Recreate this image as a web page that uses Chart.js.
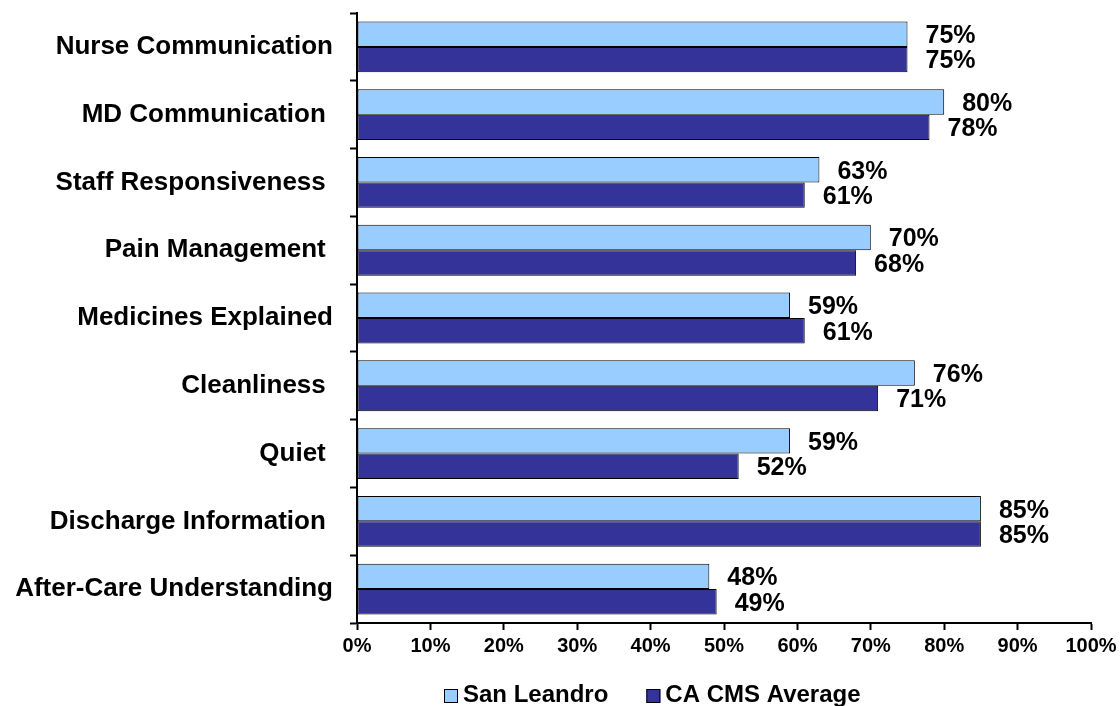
<!DOCTYPE html>
<html>
<head>
<meta charset="utf-8">
<script src="https://cdn.jsdelivr.net/npm/chart.js@4"></script>
<style>
  body { margin: 0; background: #fff; }
  #wrap { width: 1120px; height: 706px; }
</style>
</head>
<body>
<div id="wrap"><canvas id="grafico"></canvas></div>
<script>
// Datos
const categorias = [
  "Nurse Communication",
  "MD Communication ",
  "Staff Responsiveness ",
  "Pain Management ",
  "Medicines Explained",
  "Cleanliness ",
  "Quiet ",
  "Discharge Information ",
  "After-Care Understanding"
];
const sanLeandro = [75, 80, 63, 70, 59, 76, 59, 85, 48];
const caCmsAverage = [75, 78, 61, 68, 61, 71, 52, 85, 49];
const nombresSeries = ["San Leandro", "CA CMS Average"];

Chart.defaults.font.family = '"Liberation Sans", Arial, sans-serif';
Chart.defaults.color = "#000";

// Etiquetas de valor al final de cada barra
const etiquetasValor = {
  id: "etiquetasValor",
  afterDatasetsDraw(chart) {
    const ctx = chart.ctx;
    ctx.save();
    ctx.font = "bold 25px 'Liberation Sans', Arial, sans-serif";
    ctx.fillStyle = "#000";
    ctx.textAlign = "left";
    ctx.textBaseline = "middle";
    chart.data.datasets.forEach((ds, i) => {
      chart.getDatasetMeta(i).data.forEach((bar, j) => {
        ctx.fillText(ds.data[j] + "%", bar.x + 18, bar.y + 2);
      });
    });
    ctx.restore();
  }
};

// Leyenda dibujada a mano para colocarla como en el original
const leyenda = {
  id: "leyenda",
  afterDraw(chart) {
    const ctx = chart.ctx;
    ctx.save();
    ctx.font = "bold 24px 'Liberation Sans', Arial, sans-serif";
    ctx.textBaseline = "alphabetic";
    let x = 444;
    chart.data.datasets.forEach(ds => {
      ctx.fillStyle = ds.backgroundColor;
      ctx.fillRect(x, 689, 14, 14);
      ctx.strokeStyle = "#000";
      ctx.lineWidth = 1;
      ctx.strokeRect(x + 0.5, 689.5, 13, 13);
      ctx.fillStyle = "#000";
      ctx.fillText(ds.label, x + 19, 702);
      x += 19 + ctx.measureText(ds.label).width + 38;
    });
    ctx.restore();
  }
};

new Chart(document.getElementById("grafico"), {
  type: "bar",
  data: {
    labels: categorias,
    datasets: [
      {
        label: nombresSeries[0],
        data: sanLeandro,
        backgroundColor: "#99CCFF",
        borderColor: "#000",
        borderWidth: 1,
        borderSkipped: false
      },
      {
        label: nombresSeries[1],
        data: caCmsAverage,
        backgroundColor: "#333399",
        borderColor: "#000",
        borderWidth: 1,
        borderSkipped: false
      }
    ]
  },
  options: {
    indexAxis: "y",
    responsive: true,
    maintainAspectRatio: false,
    animation: false,
    datasets: { bar: { categoryPercentage: 0.75, barPercentage: 1 } },
    layout: { padding: { top: 13, right: 29, bottom: 0, left: 0 } },
    plugins: {
      legend: { display: false },
      tooltip: { enabled: false }
    },
    scales: {
      x: {
        min: 0,
        max: 100,
        ticks: {
          stepSize: 10,
          padding: 4,
          font: { size: 20, weight: "bold" },
          callback: v => v + "%"
        },
        grid: {
          drawOnChartArea: false,
          drawTicks: true,
          tickLength: 7,
          tickWidth: 2,
          color: "#000"
        },
        border: { color: "#000", width: 2 },
        afterFit: s => { s.height = 83; s.paddingLeft = 0; s.paddingRight = 0; }
      },
      y: {
        ticks: {
          padding: 17,
          font: { size: 26, weight: "bold" }
        },
        grid: {
          offset: true,
          drawOnChartArea: false,
          drawTicks: true,
          tickLength: 7,
          tickWidth: 2,
          color: "#000"
        },
        border: { color: "#000", width: 2 },
        afterFit: s => { s.width = 357; s.paddingTop = 0; s.paddingBottom = 0; }
      }
    }
  },
  plugins: [etiquetasValor, leyenda]
});
</script>
</body>
</html>
